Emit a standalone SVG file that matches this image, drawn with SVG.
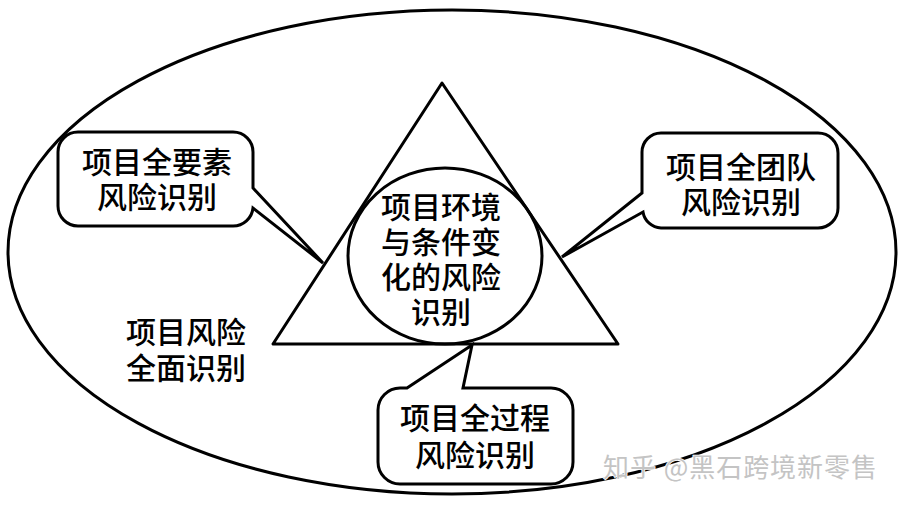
<svg xmlns="http://www.w3.org/2000/svg" width="901" height="505" viewBox="0 0 901 505">
<style>
.ln{fill:none;stroke:#000;stroke-width:3;stroke-linejoin:round}
.bx{fill:#fff;stroke:#000;stroke-width:3;stroke-linejoin:miter}
.t{font-family:"Noto Sans CJK SC","Noto Sans CJK JP",sans-serif;font-size:30px;font-weight:500;fill:#000;text-anchor:middle}
.wm{font-family:"Noto Sans CJK SC",sans-serif;font-size:26px;fill:#c4c4c4;stroke:#fff;stroke-width:1.5;paint-order:stroke}
</style>
<rect width="901" height="505" fill="#fff"/>
<g id="outer">
<ellipse class="ln" cx="452" cy="252" rx="444" ry="242"/>
<text class="t" x="186" y="343">项目风险</text>
<text class="t" x="186" y="379">全面识别</text>
</g>
<g id="triangle">
<polygon class="ln" points="442,83 273,344 618,344"/>
</g>
<g id="center">
<ellipse class="ln" cx="445" cy="256" rx="97" ry="88"/>
<text class="t" x="441" y="218">项目环境</text>
<text class="t" x="441" y="253">与条件变</text>
<text class="t" x="441" y="288">化的风险</text>
<text class="t" x="441" y="323">识别</text>
</g>
<g id="callout-elements">
<path class="bx" d="M78 132 H233 A20 20 0 0 1 253 152 V188 L323 263 L253 208 A20 20 0 0 1 233 226 H78 A20 20 0 0 1 58 206 V152 A20 20 0 0 1 78 132 Z"/>
<text class="t" x="157" y="173">项目全要素</text>
<text class="t" x="157" y="208">风险识别</text>
</g>
<g id="callout-team">
<path class="bx" d="M661 133 H818 A20 20 0 0 1 838 153 V208 A20 20 0 0 1 818 228 H661 A19 19 0 0 1 643 212 L562 257 L642 193 V152 A19 19 0 0 1 661 133 Z"/>
<text class="t" x="741" y="178">项目全团队</text>
<text class="t" x="741" y="213">风险识别</text>
</g>
<g id="callout-process">
<path class="bx" d="M400 388 H407 L472 345 L463 388 H551 A22 22 0 0 1 573 410 V462 A22 22 0 0 1 551 484 H400 A22 22 0 0 1 378 462 V410 A22 22 0 0 1 400 388 Z"/>
<text class="t" x="475" y="429">项目全过程</text>
<text class="t" x="475" y="466">风险识别</text>
</g>
<g id="watermark">
<text class="wm" x="603" y="477" textLength="274" lengthAdjust="spacing">知乎 @黑石跨境新零售</text>
</g>
</svg>
